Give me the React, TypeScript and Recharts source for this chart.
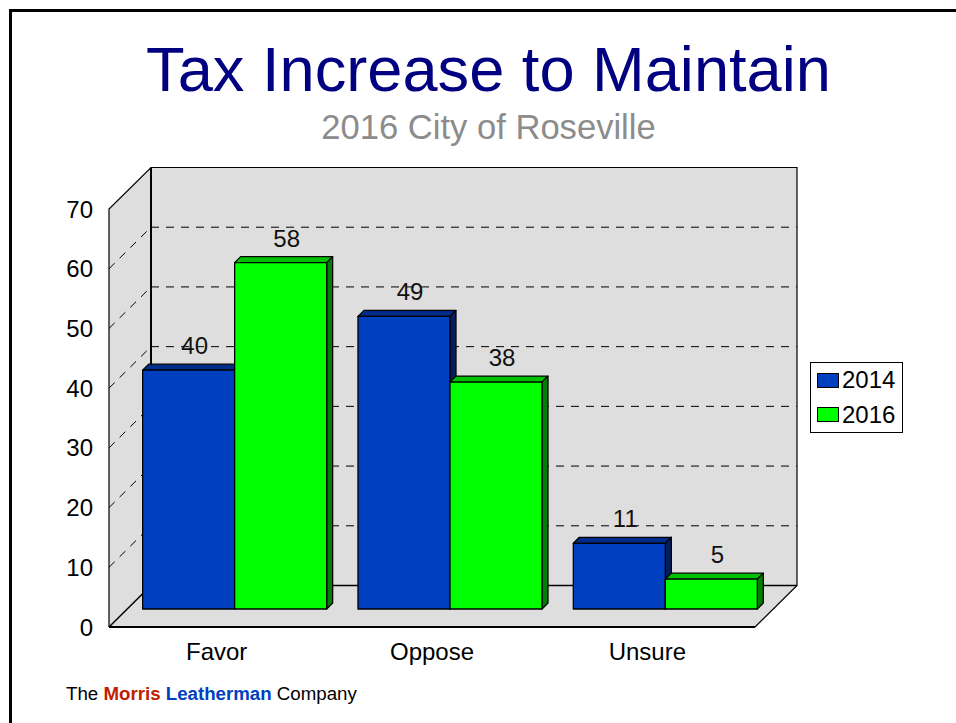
import { Bar, BarChart, CartesianGrid, LabelList, Legend, XAxis, YAxis } from "recharts";

const categories = ["Favor", "Oppose", "Unsure"];
const values2014 = [40, 49, 11];
const values2016 = [58, 38, 5];
const yTicks = [0, 10, 20, 30, 40, 50, 60, 70];

const chartData = categories.map((name, i) => ({
  name,
  y2014: values2014[i],
  y2016: values2016[i],
}));

const FONT = '"Liberation Sans", Arial, sans-serif';

// plot rectangle is the front plane of the 3D box
const LEFT = 109;
const RIGHT = 755;
const TOP = 209;
const BOTTOM = 627;
const WALL_DX = 42;
const WALL_DY = 41.5;
const BAR_INSET_X = 17.5; // bars stand this far back from the front plane
const BAR_INSET_Y = 18;
const BAR_DEPTH = 6;

const BLUE = { front: "#0040c0", top: "#002c8c", side: "#002060" };
const GREEN = { front: "#00ff00", top: "#00c000", side: "#008000" };

// sits under the chart, the grid layer would be covered otherwise
function Walls() {
  const dx = WALL_DX;
  const dy = WALL_DY;
  return (
    <svg width={956} height={723} style={{ position: "absolute", left: 0, top: 0 }}>
      <polygon
        points={`${LEFT},${TOP} ${LEFT + dx},${TOP - dy} ${RIGHT + dx},${TOP - dy} ${RIGHT + dx},${BOTTOM - dy} ${RIGHT},${BOTTOM} ${LEFT},${BOTTOM}`}
        fill="#dedede"
      />
      <path
        d={`M${LEFT},${BOTTOM} V${TOP} L${LEFT + dx},${TOP - dy} H${RIGHT + dx} V${BOTTOM - dy} L${RIGHT},${BOTTOM}`}
        fill="none"
        stroke="#000"
        strokeWidth={1.2}
      />
      <path d={`M${LEFT + dx},${TOP - dy} V${BOTTOM - dy}`} stroke="#000" strokeWidth={2} />
      <path d={`M${LEFT},${BOTTOM} L${LEFT + dx},${BOTTOM - dy} H${RIGHT + dx}`} fill="none" stroke="#000" strokeWidth={1.5} />
      <path d={`M${LEFT},${BOTTOM} H${RIGHT}`} stroke="#000" strokeWidth={2} />
    </svg>
  );
}

function GridLine(props: any) {
  const { x1, x2, y1 } = props;
  if (y1 >= BOTTOM - 1) return <g />;
  const dx = WALL_DX;
  const dy = WALL_DY;
  return (
    <g stroke="#000" strokeWidth={1} strokeDasharray="8 7" fill="none">
      {y1 > TOP + 1 && <line x1={x1} y1={y1} x2={x1 + dx} y2={y1 - dy} />}
      <line x1={x1 + dx} y1={y1 - dy} x2={x2 + dx} y2={y1 - dy} />
    </g>
  );
}

function Bar3D(props: any) {
  const { x, y, width, height, palette } = props;
  const l = x + BAR_INSET_X;
  const t = y - BAR_INSET_Y;
  const r = l + width;
  const b = t + height;
  const d = BAR_DEPTH;
  return (
    <g stroke="#000" strokeWidth={1.3} strokeLinejoin="round">
      <polygon points={`${l},${t} ${l + d},${t - d} ${r + d},${t - d} ${r},${t}`} fill={palette.top} />
      <polygon points={`${r},${t} ${r + d},${t - d} ${r + d},${b - d} ${r},${b}`} fill={palette.side} />
      <rect x={l} y={t} width={width} height={height} fill={palette.front} />
    </g>
  );
}

function ValueLabel(props: any) {
  const { x, y, width, value } = props;
  return (
    <text
      x={x + BAR_INSET_X + BAR_DEPTH + width / 2}
      y={y - BAR_INSET_Y - 16}
      textAnchor="middle"
      fontFamily={FONT}
      fontSize={24}
      fill="#111"
    >
      {value}
    </text>
  );
}

function LegendBox() {
  const rows = [
    { label: "2014", color: BLUE.front },
    { label: "2016", color: GREEN.front },
  ];
  return (
    <div
      style={{
        boxSizing: "border-box",
        width: 93,
        height: 71,
        border: "1px solid #000",
        background: "#fff",
        fontFamily: FONT,
        fontSize: 24,
        color: "#000",
      }}
    >
      {rows.map((row, i) => (
        <div
          key={row.label}
          style={{ position: "absolute", left: 7, top: i * 34.5, height: 34, marginTop: 1, display: "flex", alignItems: "center" }}
        >
          <span
            style={{
              boxSizing: "border-box",
              display: "inline-block",
              width: 22,
              height: 15,
              marginRight: 3,
              background: row.color,
              border: "1px solid #000",
            }}
          />
          {row.label}
        </div>
      ))}
    </div>
  );
}

export default function App() {
  return (
    <div style={{ position: "absolute", left: 0, top: 0, width: 956, height: 723, overflow: "hidden", background: "#fff" }}>
      <div style={{ position: "absolute", left: 9, top: 9, width: 947, height: 714, borderTop: "3px solid #000", borderLeft: "3px solid #000", boxSizing: "border-box" }} />
      <div style={{ position: "absolute", left: 0, width: 977, top: 31, textAlign: "center", fontFamily: FONT, fontSize: 63.2, lineHeight: "76px", color: "#000080" }}>
        Tax Increase to Maintain
      </div>
      <div style={{ position: "absolute", left: 0, width: 977, top: 106, textAlign: "center", fontFamily: FONT, fontSize: 34.6, lineHeight: "42px", color: "#8c8c8c" }}>
        2016 City of Roseville
      </div>
      <Walls />
      <BarChart
        width={956}
        height={723}
        data={chartData}
        margin={{ top: TOP, right: 956 - RIGHT, bottom: 56, left: 59 }}
        barCategoryGap="7.5%"
        barGap={0}
        style={{ position: "absolute", left: 0, top: 0 }}
      >
        <CartesianGrid vertical={false} horizontal={(p: any) => <GridLine key={p.key} {...p} />} />
        <XAxis
          dataKey="name"
          height={40}
          axisLine={false}
          tickLine={false}
          tickSize={0}
          tickMargin={16}
          tick={{ fontFamily: FONT, fontSize: 24, fill: "#000" }}
          interval={0}
        />
        <YAxis
          width={50}
          domain={[0, 70]}
          ticks={yTicks}
          interval={0}
          axisLine={false}
          tickLine={false}
          tickSize={0}
          tickMargin={16}
          tick={{ fontFamily: FONT, fontSize: 24, fill: "#000" }}
        />
        <Legend
          layout="vertical"
          align="center"
          verticalAlign="middle"
          content={<LegendBox />}
          wrapperStyle={{ left: 810, top: 362, width: 93, height: 71 }}
        />
        <Bar dataKey="y2014" name="2014" isAnimationActive={false} shape={(p: any) => <Bar3D {...p} palette={BLUE} />}>
          <LabelList dataKey="y2014" content={<ValueLabel />} />
        </Bar>
        <Bar dataKey="y2016" name="2016" isAnimationActive={false} shape={(p: any) => <Bar3D {...p} palette={GREEN} />}>
          <LabelList dataKey="y2016" content={<ValueLabel />} />
        </Bar>
      </BarChart>
      <div style={{ position: "absolute", left: 66, top: 684, fontFamily: FONT, fontSize: 18.7, lineHeight: "20px", color: "#000", whiteSpace: "pre" }}>
        The <b style={{ color: "#c02000" }}>Morris</b> <b style={{ color: "#0040c0" }}>Leatherman</b> Company
      </div>
    </div>
  );
}
